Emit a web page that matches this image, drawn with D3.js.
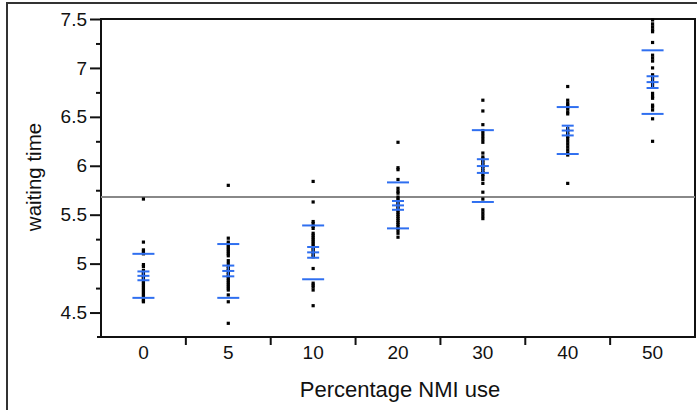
<!DOCTYPE html>
<html>
<head>
<meta charset="utf-8">
<script src="https://cdn.jsdelivr.net/npm/d3@7/dist/d3.min.js"></script>
<style>
    body { margin: 0; background: #fff; }
    svg  { display: block; font-family: "Liberation Sans", Arial, sans-serif; }
</style>
</head>
<body>
<div id="chart"></div>
<script>
/* --------------------------------------------------------- */
/* Data.                              */
/* --------------------------------------------------------- */
var categories = ["0", "5", "10", "20", "30", "40", "50"];

var nmi0  = [5.66, 5.22, 5.14, 5.12, 5.10, 4.99, 4.97, 4.93, 4.91, 4.90, 4.88, 4.87, 4.85,
             4.84, 4.82, 4.80, 4.78, 4.76, 4.74, 4.72, 4.70, 4.68, 4.66, 4.64, 4.62, 4.61];
var nmi5  = [5.80, 5.26, 5.22, 5.20, 5.18, 5.16, 5.14, 5.12, 5.10, 5.08, 5.03, 5.00, 4.97,
             4.95, 4.93, 4.91, 4.89, 4.87, 4.85, 4.83, 4.81, 4.79, 4.77, 4.75, 4.73, 4.68,
             4.61, 4.39];
var nmi10 = [5.84, 5.63, 5.43, 5.41, 5.38, 5.36, 5.31, 5.29, 5.27, 5.25, 5.23, 5.21, 5.19,
             5.17, 5.15, 5.13, 5.11, 5.09, 5.07, 4.95, 4.80, 4.78, 4.76, 4.73, 4.57];
var nmi20 = [6.24, 5.98, 5.96, 5.86, 5.77, 5.74, 5.72, 5.68, 5.66, 5.64, 5.62, 5.60, 5.58,
             5.56, 5.54, 5.52, 5.50, 5.48, 5.46, 5.44, 5.42, 5.40, 5.38, 5.36, 5.34, 5.31,
             5.27];
var nmi30 = [6.67, 6.56, 6.42, 6.36, 6.33, 6.30, 6.27, 6.24, 6.13, 6.09, 6.07, 6.05, 6.03,
             6.01, 5.99, 5.97, 5.95, 5.93, 5.91, 5.89, 5.86, 5.82, 5.73, 5.66, 5.55, 5.52,
             5.49, 5.46];
var nmi40 = [6.81, 6.67, 6.64, 6.62, 6.60, 6.58, 6.55, 6.53, 6.38, 6.36, 6.34, 6.32, 6.30,
             6.28, 6.25, 6.22, 6.19, 6.16, 6.13, 6.11, 5.82];
var nmi50 = [7.49, 7.45, 7.42, 7.39, 7.37, 7.26, 7.13, 7.10, 7.07, 7.00, 6.93, 6.91, 6.88,
             6.85, 6.82, 6.74, 6.71, 6.69, 6.62, 6.60, 6.57, 6.48, 6.25];
var groups = [nmi0, nmi5, nmi10, nmi20, nmi30, nmi40, nmi50];

// Group summaries: mean, std dev, std error.
var means = [4.875, 4.925, 5.115, 5.595, 5.997, 6.36, 6.855];
var sds   = [0.225, 0.275, 0.275, 0.235, 0.367, 0.24, 0.325];
var ses   = [0.045, 0.055, 0.055, 0.045, 0.07,  0.05, 0.06];

var grandMean   = 5.68;
var yMajorTicks = [4.5, 5, 5.5, 6, 6.5, 7, 7.5];
var yMinorTicks = [4.75, 5.25, 5.75, 6.25, 6.75, 7.25];
var xTitle = "Percentage NMI use";
var yTitle = "waiting time";
/* --------------------------------------------------------- */

var width = 697, height = 410;
var plotLeft = 101, plotRight = 695, plotTop = 19, plotBottom = 337;
var blue = "#2f6ff0";
var font = "Liberation Sans, Arial, sans-serif";

var svg = d3.select("#chart").append("svg")
          .attr("width", width)
          .attr("height", height);

var x = d3.scaleBand().domain(categories).range([plotLeft, plotRight]).padding(0);
var y = d3.scaleLinear().domain([4.25, 7.5]).range([plotBottom, plotTop]);

// Outer frame (clipped at the right and bottom of the window).
svg.append("path")
   .attr("d", "M7,410V3H697")
   .attr("fill", "none").attr("stroke", "#333").attr("stroke-width", 2);

/* --------------------------------------------------------- */
/* Axes.                                                     */
/* --------------------------------------------------------- */
var yAxis = svg.append("g").attr("transform", "translate(" + plotLeft + ",0)")
   .call(d3.axisLeft(y).tickValues(yMajorTicks).tickSize(11).tickPadding(3)
         .tickFormat(d3.format("")));
yAxis.attr("font-size", 19).attr("font-family", font);
yAxis.select(".domain").remove();
yAxis.selectAll("line").attr("stroke", "#111").attr("stroke-width", 2);
yAxis.selectAll("text").attr("fill", "#111");

var yMinor = svg.append("g").attr("transform", "translate(" + plotLeft + ",0)")
   .call(d3.axisLeft(y).tickValues(yMinorTicks).tickSize(5).tickFormat(""));
yMinor.select(".domain").remove();
yMinor.selectAll("line").attr("stroke", "#111").attr("stroke-width", 2);

var xAxis = svg.append("g").attr("transform", "translate(0," + plotBottom + ")")
   .call(d3.axisBottom(x).tickSize(0).tickPadding(9));
xAxis.attr("font-size", 19).attr("font-family", font);
xAxis.select(".domain").remove();
xAxis.selectAll("text").attr("fill", "#111");

// Ticks sit between the categories.
svg.selectAll("line.xsep")
   .data(categories.slice(1)).enter().append("line")
   .attr("class", "xsep")
   .attr("x1", function(d) { return x(d); })
   .attr("x2", function(d) { return x(d); })
   .attr("y1", plotBottom).attr("y2", plotBottom + 8)
   .attr("stroke", "#111").attr("stroke-width", 2);

// Frame of the plot.
svg.append("rect")
   .attr("x", plotLeft).attr("y", plotTop)
   .attr("width", plotRight - plotLeft).attr("height", plotBottom - plotTop)
   .attr("fill", "none").attr("stroke", "#111").attr("stroke-width", 2);
svg.append("line")
   .attr("x1", plotLeft - 4).attr("x2", plotRight)
   .attr("y1", plotBottom).attr("y2", plotBottom)
   .attr("stroke", "#111").attr("stroke-width", 2);

// Titles.
svg.append("text")
   .attr("x", 400).attr("y", 397)
   .attr("text-anchor", "middle").attr("font-size", 22).attr("fill", "#111")
   .text(xTitle);
svg.append("text")
   .attr("transform", "translate(41,177) rotate(-90)")
   .attr("text-anchor", "middle").attr("font-size", 20.5).attr("fill", "#111")
   .text(yTitle);

/* --------------------------------------------------------- */
/* Marks.                                                    */
/* --------------------------------------------------------- */
// Grand mean reference line.
svg.append("line")
   .attr("x1", plotLeft).attr("x2", plotRight)
   .attr("y1", y(grandMean)).attr("y2", y(grandMean))
   .attr("stroke", "#888").attr("stroke-width", 2);

function center(i) { return x(categories[i]) + x.bandwidth() / 2; }

groups.forEach(function(vals, i) {
    var cx = center(i);

    svg.selectAll("rect.pt" + i)
       .data(vals).enter().append("rect")
       .attr("class", "pt" + i)
       .attr("x", cx - 1.6)
       .attr("y", function(d) { return y(d) - 1.6; })
       .attr("width", 3.2).attr("height", 3.2)
       .attr("fill", "#000");

    // Long lines: mean +/- std dev.
    [means[i] - sds[i], means[i] + sds[i]].forEach(function(v) {
        svg.append("line")
           .attr("x1", cx - 11).attr("x2", cx + 11)
           .attr("y1", y(v)).attr("y2", y(v))
           .attr("stroke", blue).attr("stroke-width", 2);
    });

    // Short lines: mean and std error bar.
    [means[i] - ses[i], means[i], means[i] + ses[i]].forEach(function(v) {
        svg.append("line")
           .attr("x1", cx - 6).attr("x2", cx + 6)
           .attr("y1", y(v)).attr("y2", y(v))
           .attr("stroke", blue).attr("stroke-width", 2);
    });
    svg.append("line")
       .attr("x1", cx).attr("x2", cx)
       .attr("y1", y(means[i] - ses[i])).attr("y2", y(means[i] + ses[i]))
       .attr("stroke", blue).attr("stroke-width", 1.5);
});
</script>
</body>
</html>
